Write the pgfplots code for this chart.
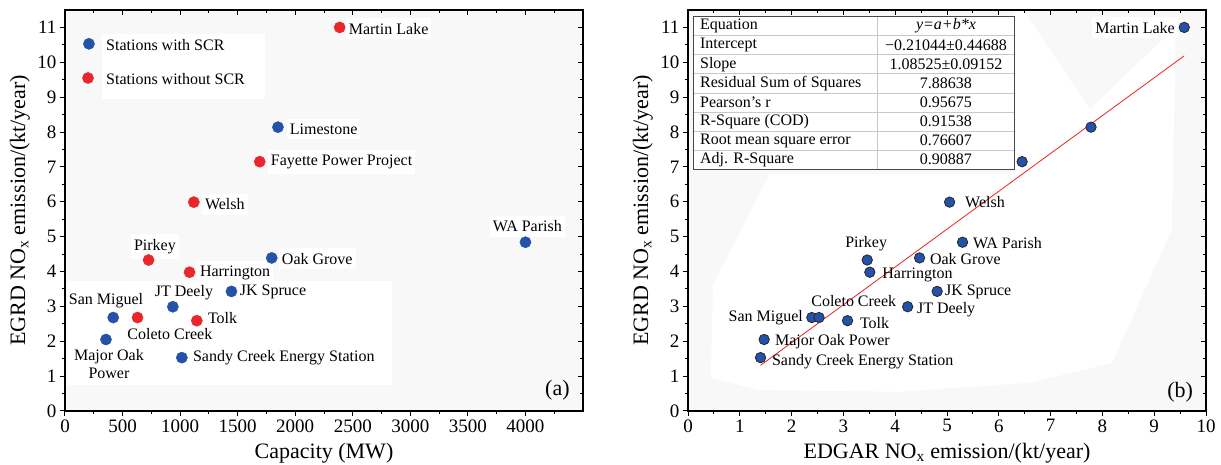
\documentclass[border=0pt]{standalone}
\usepackage{fontspec}
\setmainfont{Liberation Serif}
\usepackage{pgfplots}
\pgfplotsset{compat=1.18}
\definecolor{sblue}{RGB}{35,82,168}
\definecolor{sred}{RGB}{232,38,43}
\definecolor{bggray}{RGB}{248,248,248}
\definecolor{tabline}{RGB}{200,200,200}
\definecolor{tabborder}{RGB}{70,70,70}
\definecolor{fitred}{RGB}{235,35,35}
\newcommand{\ticksize}{\fontsize{19}{19}\selectfont}
\newcommand{\labsize}{\fontsize{22}{22}\selectfont}
\newcommand{\ptsize}{\fontsize{16}{16}\selectfont}
\tikzset{
  lab/.style={font=\ptsize, inner xsep=3pt, inner ysep=5pt},
  labw/.style={lab, fill=white},
}
\pgfplotsset{
  base/.style={
    scale only axis, width=518pt, height=401pt,
    ymin=0, ymax=11.5, ytick={0,1,...,11}, minor ytick={0.5,1.5,...,10.5},
    major tick length=5pt, minor tick length=3pt,
    every tick/.style={black, line width=1pt},
    axis line style={line width=1.3pt},
    tick label style={font=\ticksize},
    /pgf/number format/assume math mode=true,
    /pgf/number format/1000 sep={},
  },
  main/.style={base, tick align=outside, xtick pos=left, ytick pos=left,
    axis background/.style={fill=bggray},
    xlabel style={font=\labsize, at={(axis description cs:0.5,-0.105)}, anchor=center},
    ylabel style={font=\labsize, at={(axis description cs:-0.087,0.5)}, anchor=center},
  },
  over/.style={base, tick align=inside, xtick pos=right, ytick pos=right,
    xticklabels={}, yticklabels={}},
}
\begin{document}
\begin{tikzpicture}
\path[use as bounding box] (0pt,-54pt) rectangle (1221pt,411pt);
% ---------------- (a) ----------------
\begin{axis}[main, at={(65pt,0pt)}, anchor=south west,
  xmin=0, xmax=4500, xtick={0,500,...,4000}, minor xtick={250,750,...,4250},
  xlabel={Capacity (MW)}, ylabel={EGRD NO\textsubscript{x} emission/(kt/year)},
]
\fill[white] (axis cs:17,0.75) rectangle (axis cs:2837,3.74);
\fill[white] (axis cs:321,8.95) rectangle (axis cs:1735,10.82);
% Stations with SCR
\addplot[only marks, mark=*, mark size=5.6pt, color=sblue] coordinates {
  (1850,8.14) (4000,4.84) (1796,4.39) (1446,3.43) (937,2.99) (419,2.68) (356,2.05) (1015,1.53)};
% Stations without SCR
\addplot[only marks, mark=*, mark size=5.6pt, color=sred] coordinates {
  (2386,11.0) (1692,7.15) (1119,5.99) (726,4.33) (1082,3.98) (630,2.68) (1145,2.59)};
% legend markers
\addplot[only marks, mark=*, mark size=5.6pt, color=sblue] coordinates {(208,10.53)};
\addplot[only marks, mark=*, mark size=5.6pt, color=sred] coordinates {(200,9.55)};
\node[lab, anchor=west] at (axis cs:330,10.50) {Stations with SCR};
\node[lab, anchor=west] at (axis cs:330,9.53) {Stations without SCR};
\node[labw, anchor=west] at (axis cs:2438,10.96) {Martin Lake};
\node[labw, anchor=west] at (axis cs:1926,8.09) {Limestone};
\node[labw, anchor=west] at (axis cs:1761,7.14) {Fayette Power Project};
\node[labw, anchor=west] at (axis cs:1189,5.93) {Welsh};
\node[labw, anchor=west] at (axis cs:1857,4.37) {Oak Grove};
\node[labw, anchor=west] at (axis cs:1145,3.97) {Harrington};
\node[lab, anchor=west] at (axis cs:1492,3.42) {JK Spruce};
\node[lab, anchor=west] at (axis cs:1215,2.68) {Tolk};
\node[lab, anchor=west] at (axis cs:1085,1.53) {Sandy Creek Energy Station};
\node[labw] at (axis cs:4017,5.29) {WA Parish};
\node[labw] at (axis cs:781,4.72) {Pirkey};
\node[lab] at (axis cs:1033,3.40) {JT Deely};
\node[lab] at (axis cs:356,3.17) {San Miguel};
\node[lab] at (axis cs:911,2.22) {Coleto Creek};
\node[lab, align=center] at (axis cs:382,1.34) {Major Oak\\[2pt]Power};
\node[font=\labsize] at (axis cs:4278,0.60) {(a)};
\end{axis}
\begin{axis}[over, at={(65pt,0pt)}, anchor=south west,
  xmin=0, xmax=4500, xtick={0,500,...,4000}, minor xtick={250,750,...,4250}]
\end{axis}
% ---------------- (b) ----------------
\begin{axis}[main, at={(688pt,0pt)}, anchor=south west,
  xmin=0, xmax=10, xtick={0,1,...,10}, minor xtick={0.5,1.5,...,9.5},
  xlabel={EDGAR NO\textsubscript{x} emission/(kt/year)}, ylabel={EGRD NO\textsubscript{x} emission/(kt/year)},
]
\addplot[fill=white, draw=none, mark=none, forget plot] coordinates {
  (0.44,0.95) (0.48,3.63) (1.58,6.79) (6.31,6.79) (6.31,11.5) (6.47,11.5) (7.76,8.66)
  (9.42,11.02) (9.34,5.21) (8.19,1.38) (6.60,0.81) (4.09,0.55) (1.39,0.60)};
\addplot[only marks, mark=*, mark size=5.2pt, mark options={fill=sblue, draw=black!85, line width=0.8pt}] coordinates {
  (9.58,11.0) (7.78,8.14) (6.45,7.15) (5.05,5.99) (5.30,4.84) (4.47,4.39) (3.46,4.33) (3.51,3.98)
  (4.81,3.43) (4.24,2.99) (2.39,2.68) (2.53,2.68) (3.08,2.59) (1.47,2.05) (1.40,1.53)};
\addplot[fitred, line width=0.8pt, mark=none] coordinates {(1.40,1.309) (9.58,10.186)};
% table
\fill[white] (axis cs:0.097,6.935) rectangle (axis cs:6.31,11.31);
\draw[tabline, line width=0.8pt] (axis cs:3.65,6.935) -- (axis cs:3.65,11.31);
\draw[tabline, line width=0.8pt] (axis cs:0.097,10.763) -- (axis cs:6.31,10.763);
\draw[tabline, line width=0.8pt] (axis cs:0.097,10.216) -- (axis cs:6.31,10.216);
\draw[tabline, line width=0.8pt] (axis cs:0.097,9.669) -- (axis cs:6.31,9.669);
\draw[tabline, line width=0.8pt] (axis cs:0.097,9.122) -- (axis cs:6.31,9.122);
\draw[tabline, line width=0.8pt] (axis cs:0.097,8.575) -- (axis cs:6.31,8.575);
\draw[tabline, line width=0.8pt] (axis cs:0.097,8.028) -- (axis cs:6.31,8.028);
\draw[tabline, line width=0.8pt] (axis cs:0.097,7.481) -- (axis cs:6.31,7.481);
\draw[tabborder, line width=1pt] (axis cs:0.097,6.935) rectangle (axis cs:6.31,11.31);
\node[font=\ptsize, anchor=west, inner sep=0pt] at (axis cs:0.23,11.036) {Equation};
\node[font=\ptsize, anchor=west, inner sep=0pt] at (axis cs:0.23,10.489) {Intercept};
\node[font=\ptsize, anchor=west, inner sep=0pt] at (axis cs:0.23,9.942) {Slope};
\node[font=\ptsize, anchor=west, inner sep=0pt] at (axis cs:0.23,9.395) {Residual Sum of Squares};
\node[font=\ptsize, anchor=west, inner sep=0pt] at (axis cs:0.23,8.849) {Pearson's r};
\node[font=\ptsize, anchor=west, inner sep=0pt] at (axis cs:0.23,8.302) {R-Square (COD)};
\node[font=\ptsize, anchor=west, inner sep=0pt] at (axis cs:0.23,7.755) {Root mean square error};
\node[font=\ptsize, anchor=west, inner sep=0pt] at (axis cs:0.23,7.208) {Adj. R-Square};
\node[font=\ptsize, inner sep=0pt] at (axis cs:4.98,11.036) {\textit{y=a+b*x}};
\node[font=\ptsize, inner sep=0pt] at (axis cs:4.98,10.489) {−0.21044±0.44688};
\node[font=\ptsize, inner sep=0pt] at (axis cs:4.98,9.942) {1.08525±0.09152};
\node[font=\ptsize, inner sep=0pt] at (axis cs:4.98,9.395) {7.88638};
\node[font=\ptsize, inner sep=0pt] at (axis cs:4.98,8.849) {0.95675};
\node[font=\ptsize, inner sep=0pt] at (axis cs:4.98,8.302) {0.91538};
\node[font=\ptsize, inner sep=0pt] at (axis cs:4.98,7.755) {0.76607};
\node[font=\ptsize, inner sep=0pt] at (axis cs:4.98,7.208) {0.90887};
% labels
\node[labw, anchor=east] at (axis cs:9.46,10.99) {Martin Lake};
\node[lab, anchor=west] at (axis cs:5.29,5.99) {Welsh};
\node[lab, anchor=west] at (axis cs:5.44,4.83) {WA Parish};
\node[lab, anchor=west] at (axis cs:4.61,4.35) {Oak Grove};
\node[lab, anchor=west] at (axis cs:3.69,3.91) {Harrington};
\node[lab, anchor=west] at (axis cs:4.90,3.42) {JK Spruce};
\node[lab, anchor=west] at (axis cs:4.36,2.91) {JT Deely};
\node[lab, anchor=west] at (axis cs:3.26,2.53) {Tolk};
\node[lab, anchor=west] at (axis cs:1.62,1.99) {Major Oak Power};
\node[lab, anchor=west] at (axis cs:1.56,1.41) {Sandy Creek Energy Station};
\node[lab, anchor=east] at (axis cs:2.28,2.68) {San Miguel};
\node[lab] at (axis cs:3.44,4.81) {Pirkey};
\node[lab] at (axis cs:3.20,3.14) {Coleto Creek};
\node[font=\labsize] at (axis cs:9.50,0.55) {(b)};
\end{axis}
\begin{axis}[over, at={(688pt,0pt)}, anchor=south west,
  xmin=0, xmax=10, xtick={0,1,...,10}, minor xtick={0.5,1.5,...,9.5}]
\end{axis}
\end{tikzpicture}
\end{document}
